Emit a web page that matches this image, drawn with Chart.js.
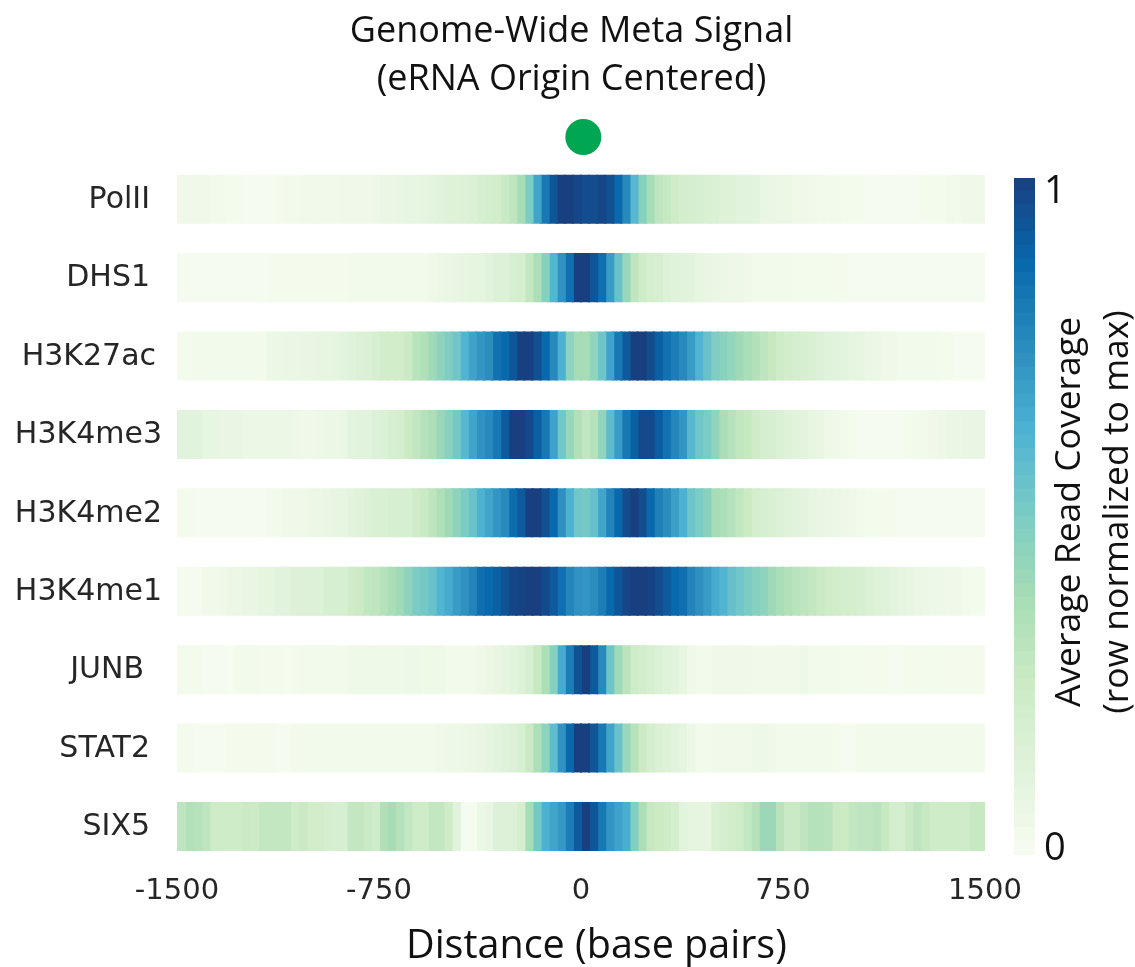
<!DOCTYPE html>
<html><head><meta charset="utf-8">
<style>html,body{margin:0;padding:0;background:#fff}#w{position:relative;width:1135px;height:967px}.p{position:absolute}</style>
<script src="https://cdn.jsdelivr.net/npm/chart.js@4"></script></head><body>
<div id="w"><div class="p" style="left:0;top:0;width:1135px;height:967px"><canvas id="c1"></canvas></div>
<div class="p" style="left:1000px;top:0;width:135px;height:967px"><canvas id="c2"></canvas></div>
<div class="p" style="left:177px;top:107px;width:808px;height:60px"><canvas id="c3"></canvas></div></div>
<script>
const tracks=['PolII','DHS1','H3K27ac','H3K4me3','H3K4me2','H3K4me1','JUNB','STAT2','SIX5'];
const xTicks=[-1500,-750,0,750,1500];
const binEdges=[-1500,-1470,-1440,-1410,-1380,-1350,-1320,-1290,-1260,-1230,-1200,-1170,-1140,-1110,-1080,-1050,-1020,-990,-960,-930,-900,-870,-840,-810,-780,-750,-720,-690,-660,-630,-600,-570,-540,-510,-480,-450,-420,-390,-360,-330,-300,-270,-240,-210,-180,-150,-120,-90,-60,-30,0,30,60,90,120,150,180,210,240,270,300,330,360,390,420,450,480,510,540,570,600,630,660,690,720,750,780,810,840,870,900,930,960,990,1020,1050,1080,1110,1140,1170,1200,1230,1260,1290,1320,1350,1380,1410,1440,1470,1500];
const PolII=[.04,.04,.04,.04,.03,.03,.02,.02,.01,.01,.01,.01,.02,.03,.03,.035,.035,.035,.035,.035,.04,.04,.04,.04,.05,.07,.07,.08,.09,.09,.10,.11,.12,.14,.14,.15,.16,.18,.21,.22,.26,.30,.38,.50,.67,.82,.93,1,1,.98,.96,.96,.98,.95,.87,.76,.60,.47,.38,.30,.27,.24,.21,.20,.19,.17,.16,.14,.14,.12,.12,.11,.08,.07,.06,.06,.04,.04,.035,.03,.03,.03,.02,.02,.02,.01,.01,.01,.01,.01,.01,.01,.02,.02,.02,.035,.03,.04,.04,.04];
const DHS1=[.01,.01,.01,.01,.01,.01,.01,.01,.01,.01,.01,.015,.015,.015,.015,.015,.015,.015,.015,.015,.015,.025,.025,.025,.025,.025,.025,.025,.025,.025,.025,.04,.06,.07,.08,.09,.10,.10,.12,.15,.15,.18,.20,.28,.36,.47,.61,.73,.85,1,1,.93,.85,.70,.55,.42,.30,.24,.20,.19,.15,.13,.12,.11,.09,.08,.07,.06,.05,.05,.04,.03,.03,.03,.025,.025,.02,.02,.02,.02,.02,.015,.015,.01,.01,.01,.01,.01,.01,.01,.01,.01,.01,.01,.01,.01,.01,.01,.01,.01];
const H3K27ac=[.02,.02,.03,.03,.03,.03,.03,.03,.03,.03,.03,.06,.06,.07,.07,.08,.08,.09,.09,.10,.11,.13,.15,.16,.18,.22,.22,.22,.26,.32,.35,.40,.45,.49,.53,.62,.68,.72,.75,.84,.87,.93,1,1,.95,.87,.76,.63,.45,.38,.38,.44,.54,.68,.82,.92,1,1,.96,.90,.84,.80,.76,.70,.62,.55,.49,.46,.43,.40,.37,.34,.30,.27,.24,.22,.20,.19,.17,.15,.13,.12,.11,.10,.09,.07,.06,.04,.04,.03,.03,.03,.03,.03,.02,.02,.01,.01,.01,.01];
const H3K4me3=[.12,.12,.12,.09,.09,.08,.08,.08,.06,.06,.06,.06,.06,.06,.05,.04,.04,.05,.06,.06,.07,.11,.12,.12,.15,.16,.18,.20,.25,.29,.33,.36,.42,.46,.52,.60,.67,.73,.76,.82,.92,1,1,.97,.90,.82,.68,.53,.42,.34,.29,.33,.44,.58,.70,.82,.90,.97,.97,.91,.84,.77,.72,.60,.53,.50,.44,.37,.33,.29,.27,.23,.20,.18,.16,.14,.12,.11,.09,.08,.05,.04,.03,.02,.01,.01,.01,.01,.01,.01,.02,.03,.03,.04,.05,.07,.07,.08,.08,.08];
const H3K4me2=[.02,.02,.01,.01,.01,.01,.01,.01,.01,.01,.01,.025,.025,.04,.04,.04,.06,.06,.07,.09,.09,.11,.13,.15,.17,.17,.19,.19,.19,.23,.26,.30,.35,.40,.45,.50,.55,.63,.67,.72,.76,.86,.92,1,1,.95,.87,.74,.63,.53,.52,.56,.67,.78,.87,.96,1,.96,.87,.79,.75,.69,.63,.54,.50,.46,.38,.36,.33,.29,.25,.20,.18,.17,.15,.13,.12,.11,.09,.08,.07,.06,.05,.04,.03,.02,.02,.015,.015,.01,.01,.01,.01,.01,.01,.01,.01,.01,.01,.01];
const H3K4me1=[.01,.01,.01,.035,.035,.04,.06,.06,.08,.08,.10,.10,.12,.12,.15,.15,.15,.15,.18,.18,.18,.23,.25,.29,.30,.33,.37,.40,.45,.50,.52,.55,.62,.65,.70,.73,.78,.85,.87,.90,.94,.98,.99,1,1,.97,.92,.85,.77,.73,.72,.75,.80,.87,.93,.98,1,1,.99,.96,.92,.87,.85,.78,.74,.70,.65,.62,.56,.53,.50,.47,.45,.40,.37,.34,.32,.30,.28,.26,.24,.22,.21,.20,.18,.16,.14,.13,.11,.10,.09,.07,.06,.05,.05,.04,.04,.03,.02,.02];
const JUNB=[.02,.02,.015,.01,.01,.01,.005,.03,.03,.03,.015,.015,.015,.01,.02,.03,.03,.03,.03,.03,.03,.045,.045,.045,.045,.04,.045,.045,.05,.05,.045,.045,.045,.03,.03,.03,.03,.04,.06,.08,.10,.11,.14,.19,.27,.36,.47,.65,.80,.94,1,.92,.76,.54,.40,.31,.24,.22,.19,.16,.13,.11,.09,.04,.03,.03,.04,.04,.04,.04,.04,.035,.035,.035,.035,.035,.035,.05,.03,.03,.03,.03,.02,.02,.02,.015,.015,.015,.01,.01,.015,.015,.02,.02,.02,.015,.015,.015,.015,.015];
const STAT2=[.015,.015,.01,.01,.01,.01,.015,.015,.015,.02,.02,.015,.01,.01,.025,.025,.025,.025,.025,.03,.03,.03,.03,.03,.03,.03,.03,.03,.03,.03,.03,.03,.04,.05,.05,.06,.07,.08,.10,.11,.13,.15,.18,.26,.36,.45,.58,.73,.87,1,1,.93,.82,.67,.55,.42,.33,.25,.20,.17,.14,.12,.10,.06,.03,.03,.035,.035,.035,.035,.035,.05,.05,.04,.03,.03,.03,.03,.03,.03,.03,.02,.01,.01,.025,.025,.025,.025,.025,.025,.025,.025,.025,.025,.025,.025,.025,.03,.03,.03];
const SIX5=[.30,.34,.33,.30,.24,.24,.24,.24,.26,.25,.28,.28,.28,.28,.24,.26,.22,.22,.20,.19,.19,.28,.28,.26,.24,.35,.38,.33,.28,.24,.24,.28,.28,.24,.12,.01,.01,.06,.08,.15,.15,.15,.20,.38,.52,.63,.67,.71,.80,.92,1,.93,.82,.72,.68,.64,.48,.36,.27,.25,.23,.20,.11,.10,.10,.10,.17,.20,.22,.24,.28,.33,.41,.41,.32,.26,.26,.30,.33,.33,.32,.26,.25,.28,.30,.30,.32,.27,.21,.20,.26,.30,.27,.24,.23,.23,.24,.24,.27,.27];
const rows=[PolII,DHS1,H3K27ac,H3K4me3,H3K4me2,H3K4me1,JUNB,STAT2,SIX5];
const colorbarLevels=[0,.02,.04,.06,.08,.10,.12,.14,.16,.18,.20,.22,.24,.26,.28,.30,.32,.34,.36,.38,.40,.42,.44,.46,.48,.50,.52,.54,.56,.58,.60,.62,.64,.66,.68,.70,.72,.74,.76,.78,.80,.82,.84,.86,.88,.90,.92,.94,.96,.98,1];
const originMarker=[{x:9,y:.5}];
const gnbu=[[247,252,240],[224,243,219],[204,235,197],[168,221,181],[123,204,196],[78,179,211],[43,140,190],[8,104,172],[24,64,128]];
function color(v){const t=Math.max(0,Math.min(1,v))*8,i=Math.min(7,Math.floor(t)),f=t-i,a=gnbu[i],b=gnbu[i+1];
 return 'rgb('+a.map((c,k)=>Math.round(c+(b[k]-c)*f)).join(',')+')';}
const LABEL_FONT='"DejaVu Sans"', TEXT_FONT='"Open Sans"';
Chart.defaults.animation=false;
Chart.defaults.responsive=true;Chart.defaults.maintainAspectRatio=false;
const heat=rows[0].map((_,b)=>({
  data:rows.map(()=>[binEdges[b],binEdges[b+1]]),
  backgroundColor:rows.map(r=>color(r[b])),
  borderWidth:0,inflateAmount:1,grouped:false,barPercentage:.6,categoryPercentage:1
}));
const labelPad={PolII:2,DHS1:2,H3K27ac:1,H3K4me3:0,H3K4me2:0,H3K4me1:0,JUNB:3,STAT2:2,SIX5:2};
new Chart(document.getElementById('c1'),{type:'bar',
 data:{labels:tracks,datasets:heat},
 options:{indexAxis:'y',layout:{padding:{left:8,right:0,top:0,bottom:0}},
  plugins:{legend:{display:false},tooltip:{enabled:false},
   title:{display:true,text:['Genome-Wide Meta Signal','(eRNA Origin Centered)'],color:'#111',font:{family:TEXT_FONT,size:36,weight:'normal',lineHeight:1.3333},padding:{top:8,bottom:56}}},
  scales:{
   x:{type:'linear',min:-1500,max:1500,grid:{display:false},border:{display:false},
      afterBuildTicks:s=>{s.ticks=xTicks.map(v=>({value:v}))},
      ticks:{color:'#262626',font:{family:LABEL_FONT,size:29},padding:0,maxRotation:0,autoSkip:false,callback:v=>String(v)},
      title:{display:true,text:'\u00a0\u00a0\u00a0Distance (base pairs)',color:'#111',font:{family:TEXT_FONT,size:39.5},padding:{top:0,bottom:-3}},
      afterFit:s=>{s.height=101.3}},
   y:{type:'category',grid:{display:false},border:{display:false},
      ticks:{color:'#262626',font:{family:LABEL_FONT,size:30},padding:7,labelOffset:1,autoSkip:false,
        callback(v){const t=this.getLabelForValue(v);return t+'\u2009'.repeat(labelPad[t]);}},
      afterFit:s=>{s.width=169}},
   spacer:{type:'linear',position:'right',display:true,grid:{display:false},border:{display:false},ticks:{display:false},afterFit:s=>{s.width=150}}
  }}});
new Chart(document.getElementById('c3'),{type:'scatter',
 data:{datasets:[{data:originMarker,clip:false,pointRadius:18,pointHoverRadius:18,backgroundColor:'#00a651',borderWidth:0}]},
 options:{plugins:{legend:{display:false},tooltip:{enabled:false}},
  scales:{x:{type:'linear',min:-1500,max:1500,display:false},y:{type:'linear',min:0,max:1,display:false}}}});
const bar=colorbarLevels.slice(0,-1).map((v,i)=>({
  data:[[v,colorbarLevels[i+1]]],backgroundColor:color(v+.01),borderWidth:0,inflateAmount:1,grouped:false,barPercentage:1,categoryPercentage:1}));
const colorbarTitle={id:'colorbarTitle',afterDraw(c){const x=c.ctx;x.save();x.fillStyle='#111';x.textAlign='center';x.textBaseline='middle';x.font='35.5px '+TEXT_FONT;
  [['Average Read Coverage',70],['(row normalized to max)',118]].forEach(([t,px])=>{x.save();x.translate(px,512);x.rotate(-Math.PI/2);x.fillText(t,0,0);x.restore();});x.restore();}};
new Chart(document.getElementById('c2'),{type:'bar',plugins:[colorbarTitle],
 data:{labels:[''],datasets:bar},
 options:{layout:{padding:{left:14,right:0,top:178,bottom:112}},
  plugins:{legend:{display:false},tooltip:{enabled:false}},
  scales:{x:{display:false,grid:{display:false}},
   y:{type:'linear',position:'right',min:0,max:1,grid:{display:false},border:{display:false},
      afterBuildTicks:s=>{s.ticks=[{value:.009},{value:.979}]},
      ticks:{color:'#111',font:{family:TEXT_FONT,size:38},padding:1,autoSkip:false,callback:v=>v<.5?'0':'1'},
      afterFit:s=>{s.width=100}}}}});
</script></body></html>
